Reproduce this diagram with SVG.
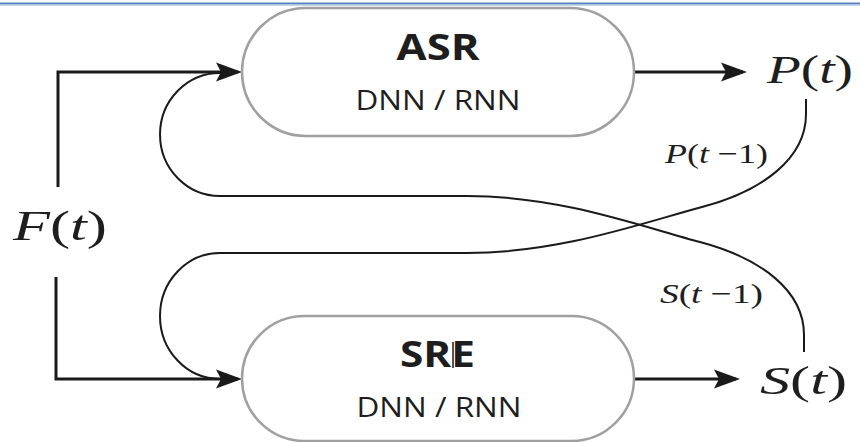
<svg xmlns="http://www.w3.org/2000/svg" width="860" height="442" viewBox="0 0 860 442">
<style>
.box{fill:#fff;stroke:#a0a0a0;stroke-width:2.5}
.title{font-family:"Open Sans","Liberation Sans",sans-serif;font-weight:700;fill:#1e1e1e;text-anchor:middle}
.sub{font-family:"Open Sans","Liberation Sans",sans-serif;font-weight:400;fill:#1e1e1e;text-anchor:middle}
.math{font-family:"Liberation Serif","Times New Roman",serif;fill:#1e1e1e}
.it{font-style:italic}
.thick{fill:none;stroke:#1a1a1a;stroke-width:3}
.thin{fill:none;stroke:#1a1a1a;stroke-width:2}
</style>
<defs>
<marker id="ah" viewBox="-24 -10 28 20" refX="0" refY="0" markerWidth="28" markerHeight="20" markerUnits="userSpaceOnUse" orient="auto">
<path d="M4,0 L-22,-9.5 L-17,0 L-22,9.5 Z" fill="#1a1a1a"/>
</marker>
</defs>
<rect width="860" height="442" fill="#fff"/>
<line x1="0" y1="3.5" x2="860" y2="3.5" stroke="#5582c0" stroke-width="2"/>
<line x1="0" y1="5.3" x2="860" y2="5.3" stroke="#b3cbe8" stroke-width="1"/>

<g id="connectors">
<path class="thin" d="M804 352 L804 335 C804 290 760 258 700 242 C640 226 560 196 467 196 L220 196 A60 61.5 0 0 1 220 73 L232 73"/>
<path class="thin" d="M806 99 L806 114 C806 159 762 191 702 207 C642 223 560 253 467 253 L220 253 A60 63 0 0 0 220 379 L232 379"/>
<path class="thick" d="M58 187 L58 72 L238 72" marker-end="url(#ah)"/>
<path class="thick" d="M56 277 L56 379 L238 379" marker-end="url(#ah)"/>
<path class="thick" d="M634 72 L743 72" marker-end="url(#ah)"/>
<path class="thick" d="M634 379 L736 379" marker-end="url(#ah)"/>
</g>

<g id="asr">
<rect class="box" x="242" y="8" width="392" height="128" rx="64" ry="64"/>
<text class="title" x="438" y="60" font-size="35" textLength="83" lengthAdjust="spacingAndGlyphs">ASR</text>
<text class="sub" x="438" y="110" font-size="27" textLength="165" lengthAdjust="spacingAndGlyphs">DNN / RNN</text>
</g>

<g id="sre">
<rect class="box" x="242" y="316" width="392" height="125" rx="62.5" ry="62.5"/>
<text class="title" x="437.5" y="367" font-size="35" textLength="75" lengthAdjust="spacingAndGlyphs">SRE</text>
<line x1="453" y1="342" x2="453" y2="368" stroke="#1e1e1e" stroke-width="1.5"/>
<text class="sub" x="439" y="417" font-size="27" textLength="165" lengthAdjust="spacingAndGlyphs">DNN / RNN</text>
</g>

<g id="ft">
<text class="math" x="13" y="240" font-size="43" textLength="94" lengthAdjust="spacingAndGlyphs"><tspan class="it">F</tspan>(<tspan class="it">t</tspan>)</text>
</g>

<g id="pt">
<text class="math" x="767" y="83" font-size="41" textLength="86" lengthAdjust="spacingAndGlyphs"><tspan class="it">P</tspan>(<tspan class="it">t</tspan>)</text>
</g>

<g id="st">
<text class="math" x="760" y="394" font-size="41" textLength="87" lengthAdjust="spacingAndGlyphs"><tspan class="it">S</tspan>(<tspan class="it">t</tspan>)</text>
</g>

<g id="label-p1">
<text class="math" x="665" y="163" font-size="28" textLength="103" lengthAdjust="spacingAndGlyphs"><tspan class="it">P</tspan>(<tspan class="it">t</tspan> −1)</text>
</g>

<g id="label-s1">
<text class="math" x="660" y="303" font-size="28" textLength="103" lengthAdjust="spacingAndGlyphs"><tspan class="it">S</tspan>(<tspan class="it">t</tspan> −1)</text>
</g>
</svg>
